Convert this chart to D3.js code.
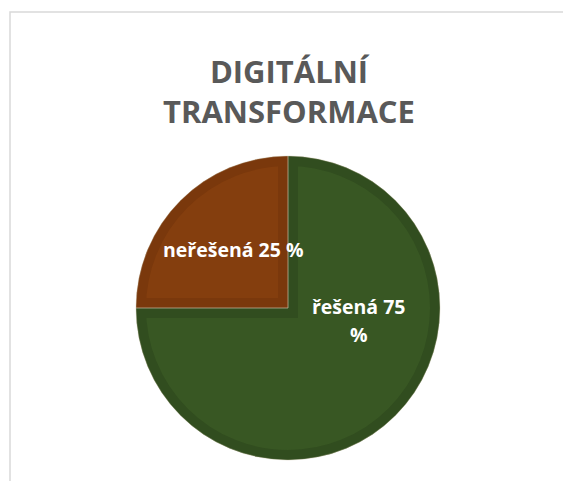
<!DOCTYPE html>
<html>
<head>
<meta charset="utf-8">
<script src="https://cdn.jsdelivr.net/npm/d3@7"></script>
<style>
  html, body { margin: 0; padding: 0; background: #fff; overflow: hidden; }
  svg { display: block; }
</style>
</head>
<body>
<div id="chart"></div>
<script>
// data
var titleLines = ["DIGITÁLNÍ", "TRANSFORMACE"];
var categories = ["řešená", "neřešená"];
var values = [75, 25];
var labelLines = [["řešená 75", "%"], ["neřešená 25 %"]];

var width = 563, height = 481;
var cx = 288, cy = 308, radius = 152;

var fills = ["#385723", "#843e0e"];
var edges = ["#314d1f", "#7a380c"];

var svg = d3.select("#chart").append("svg")
    .attr("width", width)
    .attr("height", height);

// chart frame: only the top and left edges are inside the page
svg.append("path")
    .attr("d", "M10," + height + "V12H" + width)
    .attr("fill", "none")
    .attr("stroke", "#d9d9d9")
    .attr("stroke-width", 1.5);

// title
svg.append("g").selectAll("text")
    .data(titleLines)
    .enter().append("text")
    .attr("x", 289)
    .attr("y", function(d, i){ return 83 + i * 40; })
    .attr("text-anchor", "middle")
    .style("font-family", "'Open Sans', sans-serif")
    .style("font-weight", "bold")
    .style("font-size", "31px")
    .style("fill", "#595959")
    .text(function(d){ return d; });

var pie = d3.pie().sort(null);
var arcs = pie(values);

var arc = d3.arc().innerRadius(0).outerRadius(radius);

var g = svg.append("g").attr("transform", "translate(" + cx + "," + cy + ")");

var defs = svg.append("defs");
arcs.forEach(function(d, i){
    defs.append("clipPath").attr("id", "clip" + i)
        .append("path").attr("d", arc(d));
});

// slices with a bevel-like inner border
g.selectAll(".slice")
    .data(arcs)
    .enter().append("path")
    .attr("class", "slice")
    .attr("d", arc)
    .attr("clip-path", function(d, i){ return "url(#clip" + i + ")"; })
    .attr("fill", function(d, i){ return fills[i]; })
    .attr("stroke", function(d, i){ return edges[i]; })
    .attr("stroke-width", 20);

// thin light seam between the slices
g.selectAll(".seam")
    .data(arcs)
    .enter().append("path")
    .attr("class", "seam")
    .attr("d", arc)
    .attr("fill", "none")
    .attr("stroke", "#c8c0a8")
    .attr("stroke-opacity", 0.5)
    .attr("stroke-width", 0.8);

// labels (Excel best-fit placement)
var labelAngle = [Math.PI * 0.56, Math.PI * 1.76];
var labelR = [72, 80];
var labels = g.selectAll(".label")
    .data(arcs)
    .enter().append("text")
    .attr("class", "label")
    .attr("text-anchor", "middle")
    .style("font-family", "'Open Sans', sans-serif")
    .style("font-weight", "bold")
    .style("font-size", "19.5px")
    .style("fill", "#ffffff")
    .attr("transform", function(d, i){
        var a = labelAngle[i];
        return "translate(" + (Math.sin(a) * labelR[i]) + "," + (-Math.cos(a) * labelR[i]) + ")";
    });

labels.each(function(d, i){
    var lines = labelLines[i];
    var t = d3.select(this);
    lines.forEach(function(l, j){
        t.append("tspan")
            .attr("x", 0)
            .attr("y", 7 + (j - (lines.length - 1) / 2) * 28)
            .text(l);
    });
});
</script>
</body>
</html>
